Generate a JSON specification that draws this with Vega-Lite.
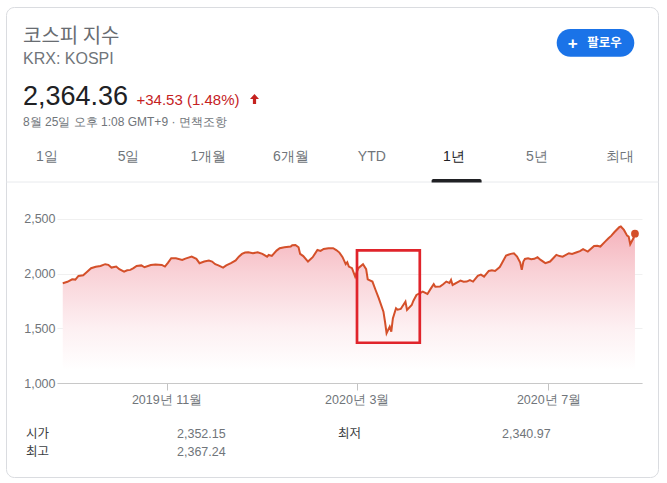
{
  "$schema": "https://vega.github.io/schema/vega-lite/v6.json",
  "padding": {"left": 6, "top": 0, "right": 8, "bottom": 5},
  "background": "#ffffff",
  "bounds": "flush",
  "spacing": 0,
  "config": {"view": {"stroke": null}, "axis": {"disable": false}},
  "datasets": {
    "kospi": [
      {"date": "2019-08-27", "close": 1912}, {"date": "2019-08-30", "close": 1925}, {"date": "2019-09-02", "close": 1948},
      {"date": "2019-09-04", "close": 1945}, {"date": "2019-09-06", "close": 1979}, {"date": "2019-09-09", "close": 1985},
      {"date": "2019-09-11", "close": 2010}, {"date": "2019-09-14", "close": 2049}, {"date": "2019-09-17", "close": 2062},
      {"date": "2019-09-20", "close": 2070}, {"date": "2019-09-23", "close": 2086}, {"date": "2019-09-25", "close": 2080},
      {"date": "2019-09-27", "close": 2055}, {"date": "2019-09-30", "close": 2064}, {"date": "2019-10-02", "close": 2040},
      {"date": "2019-10-05", "close": 2018}, {"date": "2019-10-07", "close": 2030}, {"date": "2019-10-09", "close": 2034},
      {"date": "2019-10-11", "close": 2050}, {"date": "2019-10-13", "close": 2070}, {"date": "2019-10-16", "close": 2075},
      {"date": "2019-10-18", "close": 2058}, {"date": "2019-10-22", "close": 2079}, {"date": "2019-10-25", "close": 2082},
      {"date": "2019-10-29", "close": 2079}, {"date": "2019-10-31", "close": 2064}, {"date": "2019-11-02", "close": 2100},
      {"date": "2019-11-04", "close": 2141}, {"date": "2019-11-07", "close": 2140}, {"date": "2019-11-11", "close": 2125},
      {"date": "2019-11-13", "close": 2137}, {"date": "2019-11-17", "close": 2155}, {"date": "2019-11-20", "close": 2135},
      {"date": "2019-11-22", "close": 2095}, {"date": "2019-11-25", "close": 2110}, {"date": "2019-11-28", "close": 2119},
      {"date": "2019-11-30", "close": 2110}, {"date": "2019-12-02", "close": 2086}, {"date": "2019-12-04", "close": 2075},
      {"date": "2019-12-07", "close": 2055}, {"date": "2019-12-09", "close": 2075}, {"date": "2019-12-12", "close": 2095},
      {"date": "2019-12-15", "close": 2120}, {"date": "2019-12-17", "close": 2155}, {"date": "2019-12-19", "close": 2180},
      {"date": "2019-12-21", "close": 2192}, {"date": "2019-12-23", "close": 2195}, {"date": "2019-12-26", "close": 2186},
      {"date": "2019-12-29", "close": 2195}, {"date": "2020-01-01", "close": 2180}, {"date": "2020-01-04", "close": 2155},
      {"date": "2020-01-05", "close": 2170}, {"date": "2020-01-07", "close": 2162}, {"date": "2020-01-10", "close": 2210},
      {"date": "2020-01-12", "close": 2232}, {"date": "2020-01-15", "close": 2240}, {"date": "2020-01-19", "close": 2247},
      {"date": "2020-01-20", "close": 2260}, {"date": "2020-01-22", "close": 2262}, {"date": "2020-01-24", "close": 2240},
      {"date": "2020-01-25", "close": 2180}, {"date": "2020-01-27", "close": 2160}, {"date": "2020-01-30", "close": 2110},
      {"date": "2020-02-02", "close": 2150}, {"date": "2020-02-05", "close": 2216}, {"date": "2020-02-07", "close": 2207},
      {"date": "2020-02-09", "close": 2225}, {"date": "2020-02-12", "close": 2232}, {"date": "2020-02-15", "close": 2232},
      {"date": "2020-02-17", "close": 2215}, {"date": "2020-02-19", "close": 2192}, {"date": "2020-02-21", "close": 2150},
      {"date": "2020-02-23", "close": 2086}, {"date": "2020-02-24", "close": 2104}, {"date": "2020-02-25", "close": 2064},
      {"date": "2020-02-27", "close": 2049}, {"date": "2020-02-29", "close": 1972}, {"date": "2020-03-02", "close": 2050},
      {"date": "2020-03-05", "close": 2086}, {"date": "2020-03-07", "close": 2040}, {"date": "2020-03-08", "close": 1948},
      {"date": "2020-03-11", "close": 1927}, {"date": "2020-03-13", "close": 1850}, {"date": "2020-03-15", "close": 1775},
      {"date": "2020-03-18", "close": 1652}, {"date": "2020-03-19", "close": 1560}, {"date": "2020-03-20", "close": 1455},
      {"date": "2020-03-22", "close": 1515}, {"date": "2020-03-23", "close": 1470}, {"date": "2020-03-24", "close": 1590},
      {"date": "2020-03-26", "close": 1683}, {"date": "2020-03-27", "close": 1670}, {"date": "2020-03-29", "close": 1677},
      {"date": "2020-03-30", "close": 1700}, {"date": "2020-04-01", "close": 1744}, {"date": "2020-04-02", "close": 1668},
      {"date": "2020-04-05", "close": 1713}, {"date": "2020-04-06", "close": 1750}, {"date": "2020-04-08", "close": 1805},
      {"date": "2020-04-10", "close": 1820}, {"date": "2020-04-12", "close": 1835}, {"date": "2020-04-15", "close": 1814},
      {"date": "2020-04-17", "close": 1860}, {"date": "2020-04-19", "close": 1903}, {"date": "2020-04-20", "close": 1880},
      {"date": "2020-04-23", "close": 1881}, {"date": "2020-04-25", "close": 1903}, {"date": "2020-04-27", "close": 1927},
      {"date": "2020-04-29", "close": 1915}, {"date": "2020-04-30", "close": 1942}, {"date": "2020-05-01", "close": 1896},
      {"date": "2020-05-04", "close": 1920}, {"date": "2020-05-06", "close": 1936}, {"date": "2020-05-08", "close": 1925},
      {"date": "2020-05-10", "close": 1927}, {"date": "2020-05-12", "close": 1940}, {"date": "2020-05-14", "close": 1927},
      {"date": "2020-05-17", "close": 1979}, {"date": "2020-05-19", "close": 1990}, {"date": "2020-05-21", "close": 1972},
      {"date": "2020-05-24", "close": 2024}, {"date": "2020-05-26", "close": 2030}, {"date": "2020-05-28", "close": 2024},
      {"date": "2020-05-31", "close": 2060}, {"date": "2020-06-01", "close": 2086}, {"date": "2020-06-04", "close": 2165},
      {"date": "2020-06-07", "close": 2180}, {"date": "2020-06-09", "close": 2186}, {"date": "2020-06-11", "close": 2155},
      {"date": "2020-06-13", "close": 2100}, {"date": "2020-06-14", "close": 2034}, {"date": "2020-06-15", "close": 2110},
      {"date": "2020-06-16", "close": 2134}, {"date": "2020-06-18", "close": 2140}, {"date": "2020-06-20", "close": 2131},
      {"date": "2020-06-22", "close": 2135}, {"date": "2020-06-24", "close": 2150}, {"date": "2020-06-26", "close": 2125},
      {"date": "2020-06-29", "close": 2095}, {"date": "2020-07-02", "close": 2110}, {"date": "2020-07-04", "close": 2140},
      {"date": "2020-07-06", "close": 2171}, {"date": "2020-07-08", "close": 2160}, {"date": "2020-07-10", "close": 2155},
      {"date": "2020-07-14", "close": 2186}, {"date": "2020-07-16", "close": 2180}, {"date": "2020-07-19", "close": 2195},
      {"date": "2020-07-21", "close": 2205}, {"date": "2020-07-23", "close": 2223}, {"date": "2020-07-26", "close": 2201},
      {"date": "2020-07-30", "close": 2253}, {"date": "2020-08-01", "close": 2255}, {"date": "2020-08-03", "close": 2247},
      {"date": "2020-08-06", "close": 2292}, {"date": "2020-08-08", "close": 2320}, {"date": "2020-08-10", "close": 2347},
      {"date": "2020-08-12", "close": 2380}, {"date": "2020-08-15", "close": 2424}, {"date": "2020-08-16", "close": 2430},
      {"date": "2020-08-18", "close": 2399}, {"date": "2020-08-20", "close": 2347}, {"date": "2020-08-21", "close": 2338},
      {"date": "2020-08-22", "close": 2268}, {"date": "2020-08-24", "close": 2323}, {"date": "2020-08-25", "close": 2364.36}
    ]
  },
  "vconcat": [
    {
      "width": 585,
      "height": 197,
      "layer": [
        {
          "data": {"values": [{"part": "card"}]},
          "mark": {"type": "rect", "filled": false, "color": "#dadce0", "strokeWidth": 1, "cornerRadius": 8},
          "encoding": {
            "x": {"datum": 0.5, "type": "quantitative", "scale": {"domain": [51, 636], "nice": false, "zero": false}, "axis": null},
            "x2": {"datum": 652.5},
            "y": {"datum": 0.5, "type": "quantitative", "scale": {"domain": [-7, 190], "nice": false, "zero": false, "reverse": true}, "axis": null},
            "y2": {"datum": 470.5}
          }
        },
        {
          "data": {"values": [{"label": "코스피 지수"}]},
          "mark": {"type": "text", "align": "left", "baseline": "alphabetic", "font": "Noto Sans CJK KR", "fontSize": 20, "color": "#686c71"},
          "encoding": {
            "x": {"datum": 17, "type": "quantitative", "scale": {"domain": [51, 636], "nice": false, "zero": false}, "axis": null},
            "y": {"datum": 35.5, "type": "quantitative", "scale": {"domain": [-7, 190], "nice": false, "zero": false, "reverse": true}, "axis": null},
            "text": {"field": "label"}
          }
        },
        {
          "data": {"values": [{"label": "KRX: KOSPI"}]},
          "mark": {"type": "text", "align": "left", "baseline": "alphabetic", "font": "Liberation Sans", "fontSize": 16, "color": "#70757a"},
          "encoding": {
            "x": {"datum": 17, "type": "quantitative", "scale": {"domain": [51, 636], "nice": false, "zero": false}, "axis": null},
            "y": {"datum": 57.3, "type": "quantitative", "scale": {"domain": [-7, 190], "nice": false, "zero": false, "reverse": true}, "axis": null},
            "text": {"field": "label"}
          }
        },
        {
          "data": {"values": [{"label": "2,364.36"}]},
          "mark": {"type": "text", "align": "left", "baseline": "alphabetic", "font": "Liberation Sans", "fontSize": 27, "color": "#202124"},
          "encoding": {
            "x": {"datum": 17, "type": "quantitative", "scale": {"domain": [51, 636], "nice": false, "zero": false}, "axis": null},
            "y": {"datum": 98, "type": "quantitative", "scale": {"domain": [-7, 190], "nice": false, "zero": false, "reverse": true}, "axis": null},
            "text": {"field": "label"}
          }
        },
        {
          "data": {"values": [{"label": "+34.53 (1.48%)"}]},
          "mark": {"type": "text", "align": "left", "baseline": "alphabetic", "font": "Liberation Sans", "fontSize": 15, "color": "#c5221f"},
          "encoding": {
            "x": {"datum": 130.5, "type": "quantitative", "scale": {"domain": [51, 636], "nice": false, "zero": false}, "axis": null},
            "y": {"datum": 98, "type": "quantitative", "scale": {"domain": [-7, 190], "nice": false, "zero": false, "reverse": true}, "axis": null},
            "text": {"field": "label"}
          }
        },
        {
          "data": {"values": [{"direction": "up"}]},
          "mark": {"type": "point", "shape": "M0,-1L0.9,0L0.32,0L0.32,1L-0.32,1L-0.32,0L-0.9,0Z", "filled": true, "size": 100, "opacity": 1, "color": "#c5221f"},
          "encoding": {
            "x": {"datum": 248.5, "type": "quantitative", "scale": {"domain": [51, 636], "nice": false, "zero": false}, "axis": null},
            "y": {"datum": 92, "type": "quantitative", "scale": {"domain": [-7, 190], "nice": false, "zero": false, "reverse": true}, "axis": null}
          }
        },
        {
          "data": {"values": [{"label": "8월 25일 오후 1:08 GMT+9 · 면책조항"}]},
          "mark": {"type": "text", "align": "left", "baseline": "alphabetic", "font": "Liberation Sans", "fontSize": 12, "color": "#70757a"},
          "encoding": {
            "x": {"datum": 17, "type": "quantitative", "scale": {"domain": [51, 636], "nice": false, "zero": false}, "axis": null},
            "y": {"datum": 119, "type": "quantitative", "scale": {"domain": [-7, 190], "nice": false, "zero": false, "reverse": true}, "axis": null},
            "text": {"field": "label"}
          }
        },
        {
          "data": {"values": [{"button": "팔로우"}]},
          "mark": {"type": "rect", "color": "#1a73e8", "cornerRadius": 13.8},
          "encoding": {
            "x": {"datum": 550.7, "type": "quantitative", "scale": {"domain": [51, 636], "nice": false, "zero": false}, "axis": null},
            "x2": {"datum": 628.3},
            "y": {"datum": 22, "type": "quantitative", "scale": {"domain": [-7, 190], "nice": false, "zero": false, "reverse": true}, "axis": null},
            "y2": {"datum": 49.7}
          }
        },
        {
          "data": {"values": [{"label": "+"}]},
          "mark": {"type": "text", "align": "center", "baseline": "alphabetic", "font": "Liberation Sans", "fontWeight": "bold", "fontSize": 17, "color": "#ffffff"},
          "encoding": {
            "x": {"datum": 566.8, "type": "quantitative", "scale": {"domain": [51, 636], "nice": false, "zero": false}, "axis": null},
            "y": {"datum": 41.6, "type": "quantitative", "scale": {"domain": [-7, 190], "nice": false, "zero": false, "reverse": true}, "axis": null},
            "text": {"field": "label"}
          }
        },
        {
          "data": {"values": [{"label": "팔로우"}]},
          "mark": {"type": "text", "align": "left", "baseline": "alphabetic", "font": "Noto Sans CJK KR", "fontWeight": "bold", "fontSize": 12.5, "color": "#ffffff"},
          "encoding": {
            "x": {"datum": 581.3, "type": "quantitative", "scale": {"domain": [51, 636], "nice": false, "zero": false}, "axis": null},
            "y": {"datum": 40.3, "type": "quantitative", "scale": {"domain": [-7, 190], "nice": false, "zero": false, "reverse": true}, "axis": null},
            "text": {"field": "label"}
          }
        },
        {
          "data": {"values": [{"tab": "1일"}]},
          "mark": {"type": "text", "align": "center", "baseline": "alphabetic", "font": "Liberation Sans", "fontSize": 14, "color": "#70757a"},
          "encoding": {
            "x": {"datum": 41, "type": "quantitative", "scale": {"domain": [51, 636], "nice": false, "zero": false}, "axis": null},
            "y": {"datum": 154, "type": "quantitative", "scale": {"domain": [-7, 190], "nice": false, "zero": false, "reverse": true}, "axis": null},
            "text": {"field": "tab"}
          }
        },
        {
          "data": {"values": [{"tab": "5일"}]},
          "mark": {"type": "text", "align": "center", "baseline": "alphabetic", "font": "Liberation Sans", "fontSize": 14, "color": "#70757a"},
          "encoding": {
            "x": {"datum": 122.6, "type": "quantitative", "scale": {"domain": [51, 636], "nice": false, "zero": false}, "axis": null},
            "y": {"datum": 154, "type": "quantitative", "scale": {"domain": [-7, 190], "nice": false, "zero": false, "reverse": true}, "axis": null},
            "text": {"field": "tab"}
          }
        },
        {
          "data": {"values": [{"tab": "1개월"}]},
          "mark": {"type": "text", "align": "center", "baseline": "alphabetic", "font": "Liberation Sans", "fontSize": 14, "color": "#70757a"},
          "encoding": {
            "x": {"datum": 202.5, "type": "quantitative", "scale": {"domain": [51, 636], "nice": false, "zero": false}, "axis": null},
            "y": {"datum": 154, "type": "quantitative", "scale": {"domain": [-7, 190], "nice": false, "zero": false, "reverse": true}, "axis": null},
            "text": {"field": "tab"}
          }
        },
        {
          "data": {"values": [{"tab": "6개월"}]},
          "mark": {"type": "text", "align": "center", "baseline": "alphabetic", "font": "Liberation Sans", "fontSize": 14, "color": "#70757a"},
          "encoding": {
            "x": {"datum": 285, "type": "quantitative", "scale": {"domain": [51, 636], "nice": false, "zero": false}, "axis": null},
            "y": {"datum": 154, "type": "quantitative", "scale": {"domain": [-7, 190], "nice": false, "zero": false, "reverse": true}, "axis": null},
            "text": {"field": "tab"}
          }
        },
        {
          "data": {"values": [{"tab": "YTD"}]},
          "mark": {"type": "text", "align": "center", "baseline": "alphabetic", "font": "Liberation Sans", "fontSize": 14, "color": "#70757a"},
          "encoding": {
            "x": {"datum": 365.8, "type": "quantitative", "scale": {"domain": [51, 636], "nice": false, "zero": false}, "axis": null},
            "y": {"datum": 154, "type": "quantitative", "scale": {"domain": [-7, 190], "nice": false, "zero": false, "reverse": true}, "axis": null},
            "text": {"field": "tab"}
          }
        },
        {
          "data": {"values": [{"tab": "1년"}]},
          "mark": {"type": "text", "align": "center", "baseline": "alphabetic", "font": "Liberation Sans", "fontSize": 14, "color": "#202124"},
          "encoding": {
            "x": {"datum": 448, "type": "quantitative", "scale": {"domain": [51, 636], "nice": false, "zero": false}, "axis": null},
            "y": {"datum": 154, "type": "quantitative", "scale": {"domain": [-7, 190], "nice": false, "zero": false, "reverse": true}, "axis": null},
            "text": {"field": "tab"}
          }
        },
        {
          "data": {"values": [{"tab": "5년"}]},
          "mark": {"type": "text", "align": "center", "baseline": "alphabetic", "font": "Liberation Sans", "fontSize": 14, "color": "#70757a"},
          "encoding": {
            "x": {"datum": 530.8, "type": "quantitative", "scale": {"domain": [51, 636], "nice": false, "zero": false}, "axis": null},
            "y": {"datum": 154, "type": "quantitative", "scale": {"domain": [-7, 190], "nice": false, "zero": false, "reverse": true}, "axis": null},
            "text": {"field": "tab"}
          }
        },
        {
          "data": {"values": [{"tab": "최대"}]},
          "mark": {"type": "text", "align": "center", "baseline": "alphabetic", "font": "Liberation Sans", "fontSize": 14, "color": "#70757a"},
          "encoding": {
            "x": {"datum": 613.7, "type": "quantitative", "scale": {"domain": [51, 636], "nice": false, "zero": false}, "axis": null},
            "y": {"datum": 154, "type": "quantitative", "scale": {"domain": [-7, 190], "nice": false, "zero": false, "reverse": true}, "axis": null},
            "text": {"field": "tab"}
          }
        },
        {
          "data": {"values": [{"line": "separator"}]},
          "mark": {"type": "rule", "color": "#e8eaed", "strokeWidth": 1},
          "encoding": {
            "x": {"datum": 0.5, "type": "quantitative", "scale": {"domain": [51, 636], "nice": false, "zero": false}, "axis": null},
            "x2": {"datum": 652.5},
            "y": {"datum": 175, "type": "quantitative", "scale": {"domain": [-7, 190], "nice": false, "zero": false, "reverse": true}, "axis": null}
          }
        },
        {
          "data": {"values": [{"selected": "1년"}]},
          "mark": {"type": "rect", "color": "#202124", "cornerRadiusTopLeft": 2, "cornerRadiusTopRight": 2},
          "encoding": {
            "x": {"datum": 425.6, "type": "quantitative", "scale": {"domain": [51, 636], "nice": false, "zero": false}, "axis": null},
            "x2": {"datum": 475.6},
            "y": {"datum": 172, "type": "quantitative", "scale": {"domain": [-7, 190], "nice": false, "zero": false, "reverse": true}, "axis": null},
            "y2": {"datum": 175.5}
          }
        },
        {
          "data": {"values": [{"label": "시가"}]},
          "mark": {"type": "text", "align": "left", "baseline": "alphabetic", "font": "Noto Sans CJK KR", "fontSize": 12.5, "color": "#3c4043"},
          "encoding": {
            "x": {"datum": 20, "type": "quantitative", "scale": {"domain": [51, 636], "nice": false, "zero": false}, "axis": null},
            "y": {"datum": 430.5, "type": "quantitative", "scale": {"domain": [-7, 190], "nice": false, "zero": false, "reverse": true}, "axis": null},
            "text": {"field": "label"}
          }
        },
        {
          "data": {"values": [{"value": "2,352.15"}]},
          "mark": {"type": "text", "align": "left", "baseline": "alphabetic", "font": "Liberation Sans", "fontSize": 12.5, "color": "#70757a"},
          "encoding": {
            "x": {"datum": 171, "type": "quantitative", "scale": {"domain": [51, 636], "nice": false, "zero": false}, "axis": null},
            "y": {"datum": 430.5, "type": "quantitative", "scale": {"domain": [-7, 190], "nice": false, "zero": false, "reverse": true}, "axis": null},
            "text": {"field": "value"}
          }
        },
        {
          "data": {"values": [{"label": "최저"}]},
          "mark": {"type": "text", "align": "left", "baseline": "alphabetic", "font": "Noto Sans CJK KR", "fontSize": 12.5, "color": "#3c4043"},
          "encoding": {
            "x": {"datum": 332, "type": "quantitative", "scale": {"domain": [51, 636], "nice": false, "zero": false}, "axis": null},
            "y": {"datum": 430.5, "type": "quantitative", "scale": {"domain": [-7, 190], "nice": false, "zero": false, "reverse": true}, "axis": null},
            "text": {"field": "label"}
          }
        },
        {
          "data": {"values": [{"value": "2,340.97"}]},
          "mark": {"type": "text", "align": "left", "baseline": "alphabetic", "font": "Liberation Sans", "fontSize": 12.5, "color": "#70757a"},
          "encoding": {
            "x": {"datum": 496, "type": "quantitative", "scale": {"domain": [51, 636], "nice": false, "zero": false}, "axis": null},
            "y": {"datum": 430.5, "type": "quantitative", "scale": {"domain": [-7, 190], "nice": false, "zero": false, "reverse": true}, "axis": null},
            "text": {"field": "value"}
          }
        },
        {
          "data": {"values": [{"label": "최고"}]},
          "mark": {"type": "text", "align": "left", "baseline": "alphabetic", "font": "Noto Sans CJK KR", "fontSize": 12.5, "color": "#3c4043"},
          "encoding": {
            "x": {"datum": 20, "type": "quantitative", "scale": {"domain": [51, 636], "nice": false, "zero": false}, "axis": null},
            "y": {"datum": 449, "type": "quantitative", "scale": {"domain": [-7, 190], "nice": false, "zero": false, "reverse": true}, "axis": null},
            "text": {"field": "label"}
          }
        },
        {
          "data": {"values": [{"value": "2,367.24"}]},
          "mark": {"type": "text", "align": "left", "baseline": "alphabetic", "font": "Liberation Sans", "fontSize": 12.5, "color": "#70757a"},
          "encoding": {
            "x": {"datum": 171, "type": "quantitative", "scale": {"domain": [51, 636], "nice": false, "zero": false}, "axis": null},
            "y": {"datum": 449, "type": "quantitative", "scale": {"domain": [-7, 190], "nice": false, "zero": false, "reverse": true}, "axis": null},
            "text": {"field": "value"}
          }
        }
      ]
    },
    {
      "width": 585,
      "height": 186,
      "layer": [
        {
          "data": {"name": "kospi"},
          "mark": {"type": "area", "opacity": 1, "color": {"gradient": "linear", "x1": 0, "y1": 0, "x2": 0, "y2": 1, "stops": [
            {"offset": 0, "color": "#f5b2bb"}, {"offset": 0.3, "color": "#f9d2d7"}, {"offset": 0.65, "color": "#fdf0f2"}, {"offset": 0.92, "color": "#ffffff"}]}},
          "encoding": {
            "x": {
              "field": "date", "type": "temporal",
              "scale": {"type": "utc", "nice": false, "domain": [
                {"year": 2019, "month": 8, "date": 23, "hours": 8, "minutes": 10, "utc": true},
                {"year": 2020, "month": 8, "date": 29, "hours": 11, "minutes": 30, "utc": true}]},
              "axis": {
                "title": null, "grid": false, "domainColor": "#c8c8c8",
                "values": [{"year": 2019, "month": 11, "date": 1, "utc": true}, {"year": 2020, "month": 3, "date": 1, "utc": true}, {"year": 2020, "month": 7, "date": 1, "utc": true}],
                "format": "%Y년 %-m월",
                "tickSize": 7, "tickColor": "#c4c4c4",
                "labelPadding": 3, "labelFont": "Liberation Sans", "labelFontSize": 12.5, "labelColor": "#70757a"
              }
            },
            "y": {
              "field": "close", "type": "quantitative",
              "scale": {"domain": [1000, 2700], "nice": false, "zero": false},
              "axis": {
                "title": null, "gridColor": "#f0f0f0", "domain": false, "ticks": false,
                "values": [1000, 1500, 2000, 2500], "format": ",.0f",
                "labelPadding": 2, "labelFont": "Liberation Sans", "labelFontSize": 12.5, "labelColor": "#70757a"
              }
            },
            "y2": {"datum": 1000}
          }
        },
        {
          "data": {"name": "kospi"},
          "mark": {"type": "line", "color": "#d4502a", "strokeWidth": 2},
          "encoding": {
            "x": {"field": "date", "type": "temporal"},
            "y": {"field": "close", "type": "quantitative"}
          }
        },
        {
          "data": {"name": "kospi"},
          "transform": [{"filter": {"field": "close", "equal": 2364.36}}],
          "mark": {"type": "point", "filled": true, "size": 60, "opacity": 1, "color": "#d4502a"},
          "encoding": {
            "x": {"field": "date", "type": "temporal"},
            "y": {"field": "close", "type": "quantitative"}
          }
        },
        {
          "data": {"values": [{"start": "2020-03-01T04:20:00Z", "end": "2020-04-10T03:00:00Z", "low": 1368, "high": 2212}]},
          "mark": {"type": "rect", "filled": false, "stroke": "#e0242b", "strokeWidth": 2.7},
          "encoding": {
            "x": {"field": "start", "type": "temporal"},
            "x2": {"field": "end"},
            "y": {"field": "low", "type": "quantitative"},
            "y2": {"field": "high"}
          }
        }
      ]
    }
  ]
}
